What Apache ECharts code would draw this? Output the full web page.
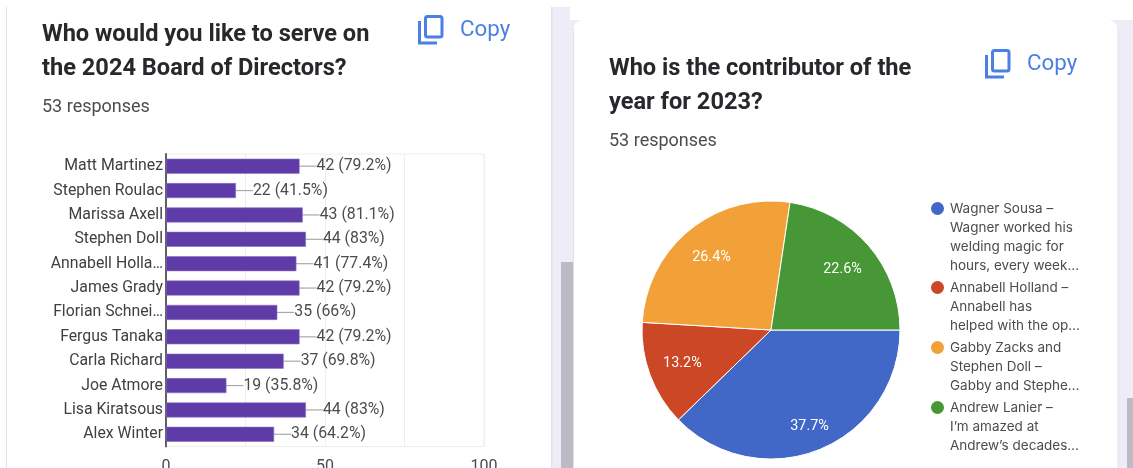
<!DOCTYPE html>
<html>
<head>
<meta charset="utf-8">
<style>html,body{margin:0;padding:0;background:#fff}#chart{width:1133px;height:468px}</style>
<script src="https://cdn.jsdelivr.net/npm/echarts@6/dist/echarts.min.js"></script>
</head>
<body>
<div id="chart"></div>
<script>
// Board of Directors votes
const boardNames = ['Matt Martinez','Stephen Roulac','Marissa Axell','Stephen Doll','Annabell Holla…','James Grady','Florian Schnei…','Fergus Tanaka','Carla Richard','Joe Atmore','Lisa Kiratsous','Alex Winter'];
const boardVotes = [42,22,43,44,41,42,35,42,37,19,44,34];
const boardShares = ['79.2%','41.5%','81.1%','83%','77.4%','79.2%','66%','79.2%','69.8%','35.8%','83%','64.2%'];

// Contributor of the year votes
const contributorNames = [
  'Wagner Sousa –\nWagner worked his\nwelding magic for\nhours, every week…',
  'Annabell Holland –\nAnnabell has\nhelped with the op…',
  'Gabby Zacks and\nStephen Doll –\nGabby and Stephe…',
  'Andrew Lanier –\nI’m amazed at\nAndrew’s decades…'
];
const contributorVotes = [20,7,14,12];
const contributorColors = ['#4268c7','#cc4725','#f2a038','#479736'];

const ui = 'Roboto, sans-serif';
const lavender = '#eeecf7';
const thumb = '#bdbac5';
const edge = '#e3e2e8';
const blue = '#4a7fe4';

// How far each percentage is pushed out from the slice's mid-radius
const pieLabelPush = [0.52, 0.40, 0.40, 0.40];

// Legend text is padded with blank lines so the swatch sits beside the first line
function legendText(name) {
  const n = name.split('\n').length - 1;
  return '\n'.repeat(n) + name;
}

// The two-sheet copy glyph: a rounded front sheet and an L-shaped back sheet
function copyIcon(x, y) {
  const stroke = { fill: 'none', stroke: blue, lineWidth: 3 };
  return [
    { type: 'rect', x, y, silent: true, shape: { x: 7.5, y: 1.5, width: 16.5, height: 20.5, r: 2 }, style: stroke },
    { type: 'polyline', x, y, silent: true, shape: { points: [[1.5, 6], [1.5, 28], [19, 28]] }, style: stroke }
  ];
}

function copyLabel(x, y) {
  return { type: 'text', x, y, silent: true, style: { text: 'Copy', fontFamily: ui, fontSize: 22.3, fill: blue } };
}

const chart = echarts.init(document.getElementById('chart'));
chart.setOption({
  animation: false,
  backgroundColor: '#ffffff',
  textStyle: { fontFamily: ui },
  title: [
    { text: 'Who would you like to serve on\nthe 2024 Board of Directors?', left: 37, top: 13,
      textStyle: { fontFamily: ui, fontSize: 23.6, fontWeight: 700, color: '#27282b', lineHeight: 34 } },
    { text: '53 responses', left: 37, top: 93,
      textStyle: { fontFamily: ui, fontSize: 18, fontWeight: 400, color: '#4b4c50' } },
    { text: 'Who is the contributor of the\nyear for 2023?', left: 604, top: 47,
      textStyle: { fontFamily: ui, fontSize: 23.6, fontWeight: 700, color: '#27282b', lineHeight: 34 } },
    { text: '53 responses', left: 604, top: 127,
      textStyle: { fontFamily: ui, fontSize: 18, fontWeight: 400, color: '#4b4c50' } }
  ],
  graphic: [
    // page backdrop, card edges and scrollbars
    { type: 'rect', z: -10, silent: true, shape: { x: 551, y: 7, width: 19, height: 461 }, style: { fill: lavender } },
    { type: 'rect', z: -10, silent: true, shape: { x: 570, y: 20, width: 30, height: 448 }, style: { fill: lavender } },
    { type: 'rect', z: -10, silent: true, shape: { x: 1090, y: 20, width: 43, height: 448 }, style: { fill: lavender } },
    { type: 'rect', z: -9, silent: true, shape: { x: 573, y: 20, width: 545, height: 460, r: 10 }, style: { fill: '#fff' } },
    { type: 'rect', z: -8, silent: true, shape: { x: 573, y: 28, width: 1, height: 440 }, style: { fill: edge } },
    { type: 'rect', z: -8, silent: true, shape: { x: 1117.5, y: 28, width: 1, height: 440 }, style: { fill: edge } },
    { type: 'rect', z: -8, silent: true, shape: { x: 6, y: 7, width: 1, height: 461 }, style: { fill: edge } },
    { type: 'rect', z: -8, silent: true, shape: { x: 551, y: 7, width: 1.5, height: 461 }, style: { fill: edge } },
    { type: 'rect', z: -8, silent: true, shape: { x: 561, y: 262, width: 12, height: 206 }, style: { fill: thumb } },
    { type: 'rect', z: -8, silent: true, shape: { x: 1127, y: 398, width: 6, height: 70 }, style: { fill: thumb } },
    // copy buttons
    ...copyIcon(418, 15),
    copyLabel(460, 19),
    ...copyIcon(985, 49),
    copyLabel(1027, 53)
  ],
  grid: { show: true, borderColor: '#eeeeee', borderWidth: 1, left: 166, right: 649, top: 154, bottom: 21.5, containLabel: false, outerBoundsMode: 'none' },
  xAxis: {
    type: 'value', min: 0, max: 100, interval: 25,
    axisLine: { show: false }, axisTick: { show: false },
    splitLine: { show: true, lineStyle: { color: '#eeeeee', width: 1 } },
    axisLabel: {
      color: '#4b4c50', fontSize: 16, fontFamily: ui, margin: 12,
      formatter: v => (v % 50 === 0 ? String(v) : '')
    }
  },
  yAxis: {
    type: 'category', inverse: true, data: boardNames,
    axisLine: { show: true, lineStyle: { color: '#5f6064', width: 2 } },
    axisTick: { show: false },
    splitLine: { show: false },
    axisLabel: { color: '#3f4044', fontSize: 15.8, fontFamily: ui, margin: 3, padding: [3, 0, 0, 0] }
  },
  legend: {
    orient: 'vertical', left: 924, top: 137, itemWidth: 15, itemHeight: 15, itemGap: -35,
    icon: 'circle', selectedMode: false,
    formatter: legendText,
    textStyle: { fontFamily: 'Inter, sans-serif', fontSize: 13.5, lineHeight: 19, color: '#4b4c50' },
    data: contributorNames
  },
  series: [
    {
      type: 'bar', barWidth: 15,
      data: boardVotes,
      itemStyle: { color: '#5f3ba8', borderColor: '#8a6fc6', borderWidth: 0.6 },
      label: {
        show: true, position: 'right', distance: 0, padding: [3, 0, 0, 0],
        color: '#4b4c50', fontSize: 15.8, fontFamily: ui,
        formatter: p => p.value + ' (' + boardShares[p.dataIndex] + ')'
      },
      labelLayout: { dx: 17 },
      labelLine: { show: true, lineStyle: { color: '#a9a9a9', width: 1.2 } }
    },
    {
      type: 'pie', center: [771, 330], radius: [0, 129], startAngle: 0, clockwise: true,
      data: contributorNames.map((name, i) => ({ name, value: contributorVotes[i], itemStyle: { color: contributorColors[i] } })),
      itemStyle: { borderColor: '#ffffff', borderWidth: 1 },
      label: {
        show: true, position: 'inside', color: '#ffffff', fontSize: 14.4, fontFamily: ui,
        formatter: p => p.percent.toFixed(1) + '%'
      },
      // push the percentages outward from mid-radius toward the rim
      labelLayout: p => ({
        dx: (p.labelRect.x + p.labelRect.width / 2 - 771) * pieLabelPush[p.dataIndex],
        dy: (p.labelRect.y + p.labelRect.height / 2 - 330) * pieLabelPush[p.dataIndex] + 1
      })
    }
  ]
});
</script>
</body>
</html>
